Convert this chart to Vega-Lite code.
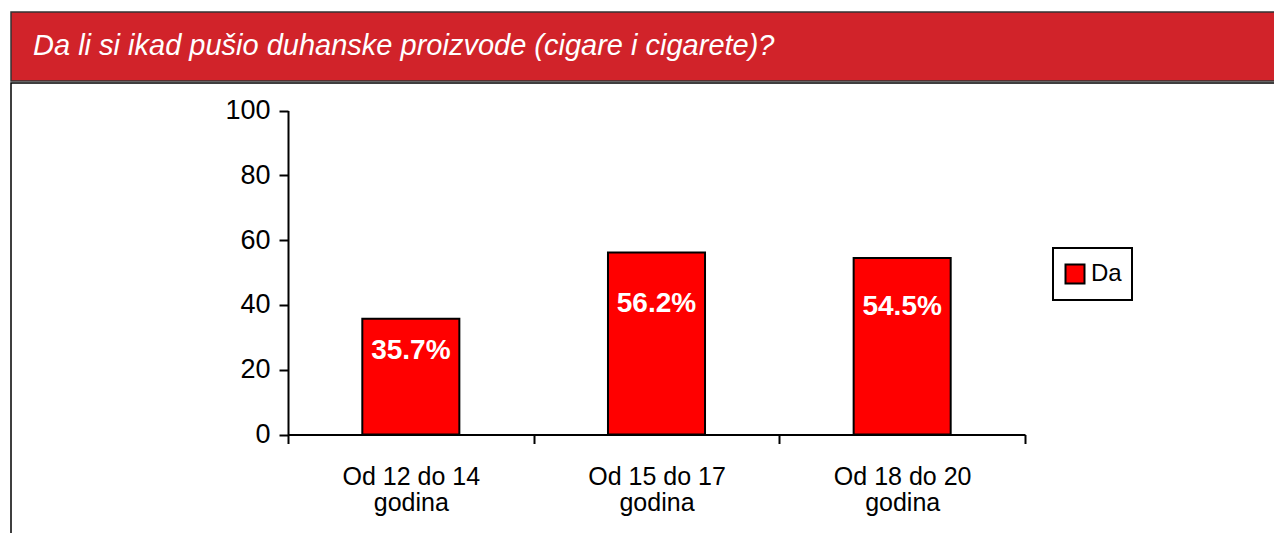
{
  "$schema": "https://vega.github.io/schema/vega-lite/v6.json",
  "background": "white",
  "padding": {"left": 10, "top": 11, "right": 0, "bottom": 0},
  "spacing": 0,
  "config": {
    "font": "Liberation Sans",
    "axis": {"grid": false},
    "legend": {"strokeWidth": 2}
  },
  "vconcat": [
    {
      "width": 1270,
      "height": 69,
      "view": {"fill": "#D1232A", "stroke": "#333333", "strokeWidth": 1.5},
      "title": {
        "text": "Da li si ikad pušio duhanske proizvode (cigare i cigarete)?",
        "anchor": "start",
        "frame": "group",
        "orient": "top",
        "offset": -72,
        "dx": 22,
        "baseline": "alphabetic",
        "font": "Liberation Sans",
        "fontStyle": "italic",
        "fontWeight": "normal",
        "fontSize": 29,
        "color": "white"
      },
      "data": {"values": []},
      "mark": "text",
      "encoding": {}
    },
    {
      "width": 1270,
      "height": 460,
      "view": {"fill": "white", "stroke": "black", "strokeWidth": 1.5},
      "data": {
        "values": [
          {"group": "Od 12 do 14 godina", "series": "Da", "value": 35.7, "label": "35.7%"},
          {"group": "Od 15 do 17 godina", "series": "Da", "value": 56.2, "label": "56.2%"},
          {"group": "Od 18 do 20 godina", "series": "Da", "value": 54.5, "label": "54.5%"}
        ]
      },
      "layer": [
        {
          "mark": {"type": "bar", "stroke": "black", "strokeWidth": 2, "width": {"band": 0.395}},
          "encoding": {
            "x": {
              "field": "group",
              "type": "nominal",
              "sort": null,
              "scale": {"range": [277, 1014], "paddingInner": 0, "paddingOuter": 0},
              "axis": {
                "title": null,
                "offset": -108.5,
                "labelAngle": 0,
                "tickBand": "extent",
                "tickSize": 9,
                "tickWidth": 2,
                "tickColor": "black",
                "domainColor": "black",
                "domainWidth": 2,
                "labelFont": "Liberation Sans",
                "labelFontSize": 25,
                "labelColor": "black",
                "labelPadding": 21,
                "labelLineHeight": 26,
                "labelExpr": "datum.label ? [replace(datum.label, ' godina', ''), 'godina'] : ''"
              }
            },
            "y": {
              "field": "value",
              "type": "quantitative",
              "scale": {"domain": [0, 100], "range": [351.5, 27.5]},
              "axis": {
                "title": null,
                "offset": -277,
                "values": [0, 20, 40, 60, 80, 100],
                "tickSize": 9,
                "tickWidth": 2,
                "tickColor": "black",
                "domainColor": "black",
                "domainWidth": 2,
                "labelFont": "Liberation Sans",
                "labelFontSize": 27,
                "labelColor": "black",
                "labelPadding": 9
              }
            },
            "color": {
              "field": "series",
              "type": "nominal",
              "scale": {"range": ["#FF0000"]},
              "legend": {
                "title": null,
                "orient": "none",
                "legendX": 1042,
                "legendY": 236,
                "fillColor": "white",
                "strokeColor": "black",
                "padding": 10,
                "clipHeight": 32,
                "symbolType": "square",
                "symbolSize": 361,
                "symbolStrokeColor": "black",
                "symbolStrokeWidth": 2,
                "symbolOpacity": 1,
                "labelFont": "Liberation Sans",
                "labelFontSize": 24,
                "labelColor": "black",
                "labelOffset": 4
              }
            }
          }
        },
        {
          "mark": {
            "type": "text",
            "align": "center",
            "baseline": "middle",
            "font": "Liberation Sans",
            "fontWeight": "bold",
            "fontSize": 28,
            "color": "white"
          },
          "encoding": {
            "x": {"field": "group", "type": "nominal", "sort": null},
            "y": {
              "field": "value",
              "type": "quantitative",
              "scale": {"domain": [0, 139], "range": [351.5, 27.5]},
              "axis": null
            },
            "text": {"field": "label"}
          }
        }
      ],
      "resolve": {"scale": {"y": "independent"}}
    }
  ]
}
